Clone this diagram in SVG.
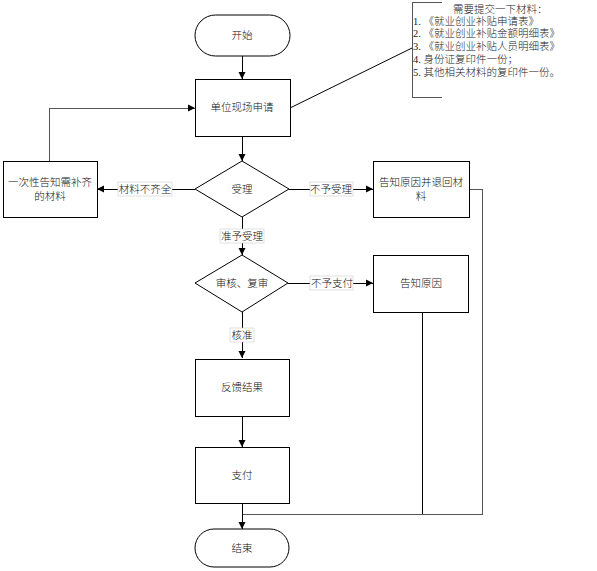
<svg xmlns="http://www.w3.org/2000/svg" width="597" height="571" viewBox="0 0 597 571">
<style>
.n{fill:#fff;stroke:#000;stroke-width:1}
rect.n,line,polyline{shape-rendering:crispEdges}
.t{font-family:"Liberation Serif","Noto Sans CJK SC",serif;font-size:10.5px;font-weight:300;fill:#111;text-anchor:middle;dominant-baseline:central}
.a{font-family:"Liberation Serif","Noto Sans CJK SC",serif;font-size:10.5px;font-weight:300;fill:#222}
.c{fill:none;stroke:#000;stroke-width:1}
.g{fill:none;stroke:#555;stroke-width:1}
.lb{fill:#fff;stroke:#ccc;stroke-width:0.6}
</style>
<defs>
<marker id="ar" markerWidth="8" markerHeight="8" refX="7" refY="4" orient="auto" markerUnits="userSpaceOnUse">
<path d="M0,0.5 L7,4 L0,7.5 Z" fill="#000"/>
</marker>
</defs>
<g id="connectors">
<line class="c" x1="242" y1="56" x2="242" y2="79" marker-end="url(#ar)"/>
<line class="c" x1="242" y1="136" x2="242" y2="161" marker-end="url(#ar)"/>
<line class="c" x1="290" y1="108" x2="412" y2="48" style="shape-rendering:auto"/>
<line class="c" x1="195" y1="189" x2="97" y2="189" marker-end="url(#ar)"/>
<polyline class="g" points="49,161 49,108 195,108" marker-end="url(#ar)"/>
<line class="c" x1="289" y1="189" x2="373" y2="189" marker-end="url(#ar)"/>
<polyline class="g" points="469,189 482,189 482,514 242,514"/>
<line class="c" x1="242" y1="217" x2="242" y2="255" marker-end="url(#ar)"/>
<line class="c" x1="288" y1="283" x2="373" y2="283" marker-end="url(#ar)"/>
<line class="c" x1="422" y1="312" x2="422" y2="514"/>
<line class="c" x1="242" y1="312" x2="242" y2="358" marker-end="url(#ar)"/>
<line class="c" x1="242" y1="416" x2="242" y2="447" marker-end="url(#ar)"/>
<line class="c" x1="242" y1="503" x2="242" y2="529" marker-end="url(#ar)"/>
<rect class="lb" x="118" y="182" width="54" height="14"/>
<text class="t" x="145" y="189">材料不齐全</text>
<rect class="lb" x="310" y="182" width="43" height="14"/>
<text class="t" x="331" y="189">不予受理</text>
<rect class="lb" x="220" y="229" width="44" height="14"/>
<text class="t" x="242" y="236">准予受理</text>
<rect class="lb" x="310" y="276" width="43" height="14"/>
<text class="t" x="332" y="283">不予支付</text>
<rect class="lb" x="230" y="328" width="24" height="14"/>
<text class="t" x="242" y="335">核准</text>
</g>
<g id="start">
<rect class="n" x="195" y="15" width="95" height="41" rx="20.5" style="shape-rendering:auto"/>
<text class="t" x="242" y="35">开始</text>
</g>
<g id="apply">
<rect class="n" x="195" y="79" width="95" height="57"/>
<text class="t" x="242" y="107">单位现场申请</text>
</g>
<g id="note">
<polyline class="g" points="442,2 412,2 412,97 442,97"/>
<text class="a" x="453" y="13">需要提交一下材料：</text>
<text class="a" x="413" y="25">1. 《就业创业补贴申请表》</text>
<text class="a" x="413" y="37">2. 《就业创业补贴金额明细表》</text>
<text class="a" x="413" y="50">3. 《就业创业补贴人员明细表》</text>
<text class="a" x="413" y="63">4. 身份证复印件一份；</text>
<text class="a" x="413" y="76">5. 其他相关材料的复印件一份。</text>
</g>
<g id="accept">
<polygon class="n" points="242,161 289,189 242,217 195,189"/>
<text class="t" x="242" y="189">受理</text>
</g>
<g id="notify-supplement">
<rect class="n" x="3" y="161" width="94" height="56"/>
<text class="t" x="50" y="182">一次性告知需补齐</text>
<text class="t" x="50" y="196">的材料</text>
</g>
<g id="reject-return">
<rect class="n" x="373" y="161" width="96" height="56"/>
<text class="t" x="421" y="182">告知原因并退回材</text>
<text class="t" x="421" y="196">料</text>
</g>
<g id="review">
<polygon class="n" points="242,255 288,283 242,312 195,283"/>
<text class="t" x="242" y="283">审核、复审</text>
</g>
<g id="notify-reason">
<rect class="n" x="373" y="255" width="95" height="57"/>
<text class="t" x="421" y="283">告知原因</text>
</g>
<g id="feedback">
<rect class="n" x="195" y="359" width="94" height="57"/>
<text class="t" x="242" y="387">反馈结果</text>
</g>
<g id="pay">
<rect class="n" x="195" y="447" width="94" height="56"/>
<text class="t" x="242" y="475">支付</text>
</g>
<g id="end">
<rect class="n" x="195" y="529" width="94" height="38" rx="19" style="shape-rendering:auto"/>
<text class="t" x="242" y="548">结束</text>
</g>
</svg>
